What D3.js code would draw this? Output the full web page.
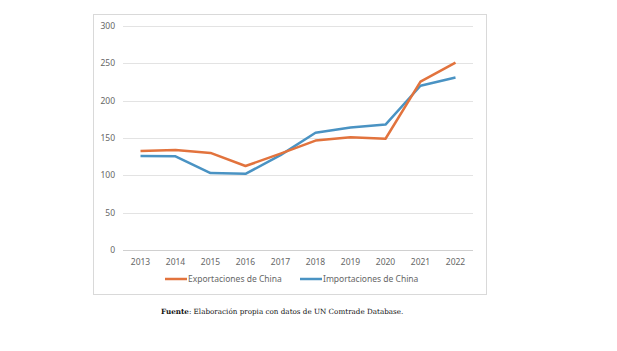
<!DOCTYPE html>
<html>
<head>
<meta charset="utf-8">
<script src="https://cdn.jsdelivr.net/npm/d3@7"></script>
<style>
  body { margin: 0; background: #fff; }
  svg { display: block; }
</style>
</head>
<body>
<svg id="chart" width="617" height="351"></svg>
<script>
const years = ['2013', '2014', '2015', '2016', '2017', '2018', '2019', '2020', '2021', '2022'];
const exportaciones = [132.5, 134, 130, 112.5, 129, 146.5, 151, 149, 225.5, 251];
const importaciones = [126, 125.5, 103, 102, 127, 157, 164, 168, 220, 231];
const yTicks = [0, 50, 100, 150, 200, 250, 300];

const series = [
  { name: 'Exportaciones de China', values: exportaciones, color: '#e2733d' },
  { name: 'Importaciones de China', values: importaciones, color: '#4a93c3' }
];

const svg = d3.select('#chart');
const margin = { left: 123, right: 144, top: 26, bottom: 101 };
const W = 617, H = 351;
const labelFont = '"Noto Sans", sans-serif';

svg.append('rect')
  .attr('x', 93.5).attr('y', 14.5)
  .attr('width', 393).attr('height', 280)
  .attr('fill', '#fff')
  .attr('stroke', '#d9d9d9');

const x = d3.scaleBand()
  .domain(years)
  .range([margin.left, W - margin.right]);

const y = d3.scaleLinear()
  .domain([0, 300])
  .range([H - margin.bottom, margin.top]);

const g = svg.append('g');

g.selectAll('.grid')
  .data(yTicks)
  .enter()
  .append('line')
  .attr('class', 'grid')
  .attr('x1', margin.left)
  .attr('x2', W - margin.right)
  .attr('y1', d => Math.round(y(d)) + 0.5)
  .attr('y2', d => Math.round(y(d)) + 0.5)
  .attr('stroke', d => d === 0 ? '#d0d0d0' : '#e3e3e3')
  .attr('stroke-width', 1);

g.selectAll('.ylab')
  .data(yTicks)
  .enter()
  .append('text')
  .attr('x', margin.left - 8)
  .attr('y', d => y(d))
  .attr('dy', '0.35em')
  .attr('text-anchor', 'end')
  .style('font-family', labelFont)
  .style('font-size', '8.5px')
  .style('fill', '#666')
  .text(d => d);

g.selectAll('.xlab')
  .data(years)
  .enter()
  .append('text')
  .attr('x', d => x(d) + x.bandwidth() / 2)
  .attr('y', y(0) + 12)
  .attr('dy', '0.35em')
  .attr('text-anchor', 'middle')
  .style('font-family', labelFont)
  .style('font-size', '8.5px')
  .style('fill', '#666')
  .text(d => d);

const line = d3.line()
  .x((d, i) => x(years[i]) + x.bandwidth() / 2)
  .y(d => y(d));

// blue first so orange sits on top where they cross
[series[1], series[0]].forEach(s => {
  g.append('path')
    .datum(s.values)
    .attr('d', line)
    .attr('fill', 'none')
    .attr('stroke', s.color)
    .attr('stroke-width', 2.5)
    .attr('stroke-linejoin', 'round');
});

const legendX = [165, 300];
const legend = svg.selectAll('.legend')
  .data(series)
  .enter()
  .append('g')
  .attr('transform', (d, i) => `translate(${legendX[i]},279)`);

legend.append('line')
  .attr('x1', 0).attr('x2', 22)
  .attr('y1', 0).attr('y2', 0)
  .attr('stroke', d => d.color)
  .attr('stroke-width', 2.5);

legend.append('text')
  .attr('x', 23)
  .attr('y', 0)
  .attr('dy', '0.35em')
  .style('font-family', labelFont)
  .style('font-size', '8.5px')
  .style('fill', '#666')
  .text(d => d.name);

const src = svg.append('text')
  .attr('x', 161)
  .attr('y', 314)
  .style('font-family', '"DejaVu Serif", serif')
  .style('font-size', '7.2px')
  .style('fill', '#111');
src.append('tspan').style('font-weight', 'bold').text('Fuente');
src.append('tspan').text(': Elaboración propia con datos de UN Comtrade Database.');
</script>
</body>
</html>
